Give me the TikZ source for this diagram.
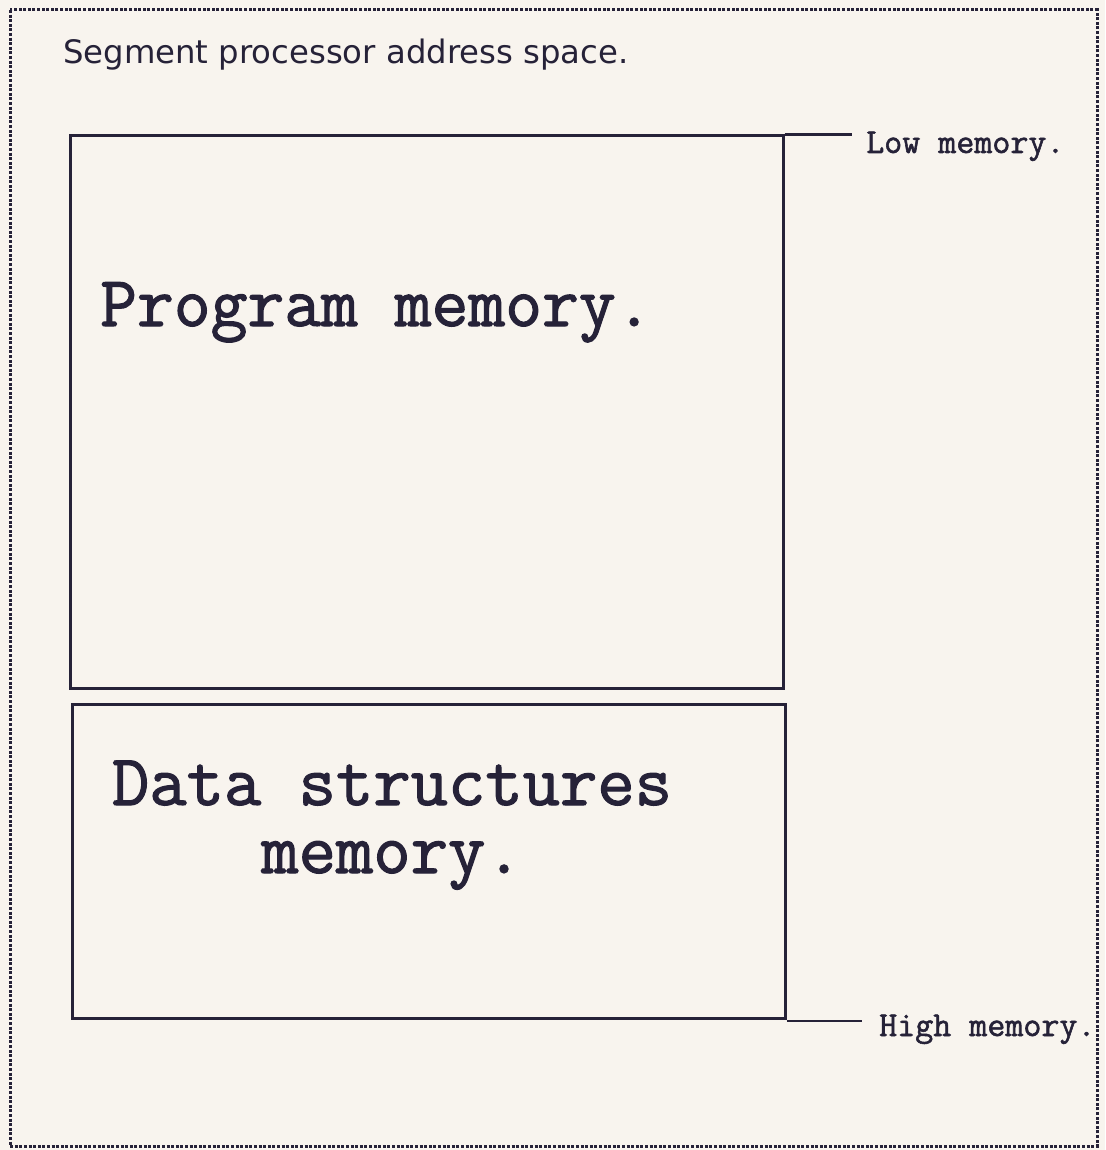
\documentclass[tikz,border=0pt]{standalone}
\usepackage{fontspec}
\newfontfamily\headfont{DejaVu Sans}
\newfontfamily\monofont{Latin Modern Mono}[FakeBold=1.6]
\definecolor{paper}{RGB}{248,244,238}
\definecolor{ink}{RGB}{38,34,56}
\begin{document}
\begin{tikzpicture}[x=1pt,y=-1pt,
  region/.style={draw=ink, line width=3pt, rectangle, inner sep=0pt},
  bigtext/.style={font=\monofont\fontsize{71.5}{68}\selectfont, text=ink, inner sep=0pt},
  edgetext/.style={font=\monofont\fontsize{35}{40}\selectfont, text=ink, inner sep=0pt},
  boundary/.style={draw=ink, line width=2.5pt}]
  % page and dotted frame
  \fill[paper] (0,0) rectangle (1105,1150);
  \useasboundingbox (0,0) rectangle (1105,1150);
  \draw[ink, line width=3pt, dash pattern=on 3pt off 1.6pt] (10,10) rectangle (1097,1146);

  % title
  \node[anchor=base west, inner sep=0pt, text=ink, font=\headfont\fontsize{32.3}{36}\selectfont]
    (title) at (63,64) {Segment processor address space.};

  % memory regions
  \node[region, minimum width=713pt, minimum height=552pt] (prog) at (426.5,412) {};
  \node[region, minimum width=713pt, minimum height=314pt] (data) at (428.5,861) {};

  \node[bigtext, anchor=base west] (progtext) at (100,326) {Program memory.};
  \node[bigtext, anchor=base, align=center, font=\monofont\fontsize{72.5}{68}\selectfont]
    (datatext) at (392,873) {Data structures\\memory.};

  % boundary labels
  \node[edgetext, anchor=base west] (low) at (866,153) {Low memory.};
  \node[edgetext, anchor=base west] (high) at (879,1036) {High memory.};

  \coordinate (lowend) at ([xshift=-14pt]low.west |- prog.north east);
  \coordinate (highstart) at ([yshift=-1.5pt]data.south east);
  \coordinate (highend) at ([xshift=-17pt]high.west |- highstart);
  \draw[boundary] (prog.north east) -- (lowend);
  \draw[boundary] (highstart) -- (highend);
\end{tikzpicture}
\end{document}
